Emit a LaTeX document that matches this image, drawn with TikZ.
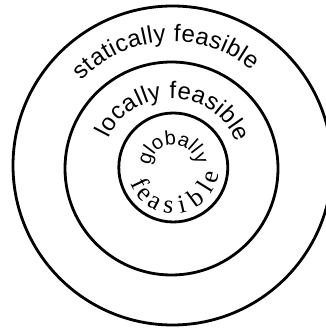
\documentclass[tikz,border=0pt]{standalone}
\usepackage{fontspec}
\setmainfont{Liberation Sans}
\newfontfamily\timesfont{Liberation Serif}

\begin{document}
\begin{tikzpicture}[x=1pt,y=1pt,
  ring/.style={line width=2.8pt},
  letter/.style={inner sep=0pt,anchor=base}]
\useasboundingbox (0,0) rectangle (326,329);
\clip (0,0) rectangle (326,329);
% centres of the three rings
\coordinate (outer) at (172.5,163.5);
\coordinate (middle) at (171.5,160.5);
\coordinate (inner) at (173.3,161.5);
\draw[ring] (outer) circle[radius=159.5];
\draw[ring] (middle) circle[radius=106.5];
\draw[ring] (inner) circle[radius=54.5];
% statically feasible
\foreach \ch/\a in {s/134.23,t/129.74,a/124.94,t/120.13,i/117.18,c/113.0,a/106.97,l/102.48,l/99.84,y/95.66,
                    f/87.91,e/83.11,a/76.77,s/70.74,i/66.56,b/62.06,l/57.57,e/53.08}
  \path (outer) ++(\a:124) node[letter,font=\fontsize{24pt}{24pt}\selectfont,rotate=\a-90] {\ch};
% locally feasible
\foreach \ch/\a in {l/152.32,o/144.33,c/133.6,a/122.88,l/114.89,l/110.17,y/102.73,
                    f/88.93,e/80.38,a/69.11,s/58.39,i/50.94,b/42.95,l/34.96,e/26.97}
  \path (middle) ++(\a:70) node[letter,font=\fontsize{24pt}{24pt}\selectfont,rotate=\a-90] {\ch};
% globally
\foreach \ch/\a in {g/162.3,l/142.9,o/123.5,b/95.8,a/68.1,l/48.75,l/37.7,y/19.7}
  \path (inner) ++(\a:23) node[letter,font=\fontsize{20pt}{20pt}\selectfont,rotate=\a-90] {\ch};
% feasible (serif, along the bottom)
\foreach \ch/\a in {f/206,e/223,a/242,s/263,i/283,b/306,l/328,e/346}
  \path (inner) ++(\a:46) node[letter,font=\timesfont\fontsize{26pt}{26pt}\selectfont,rotate=\a+90] {\ch};
\end{tikzpicture}
\end{document}
